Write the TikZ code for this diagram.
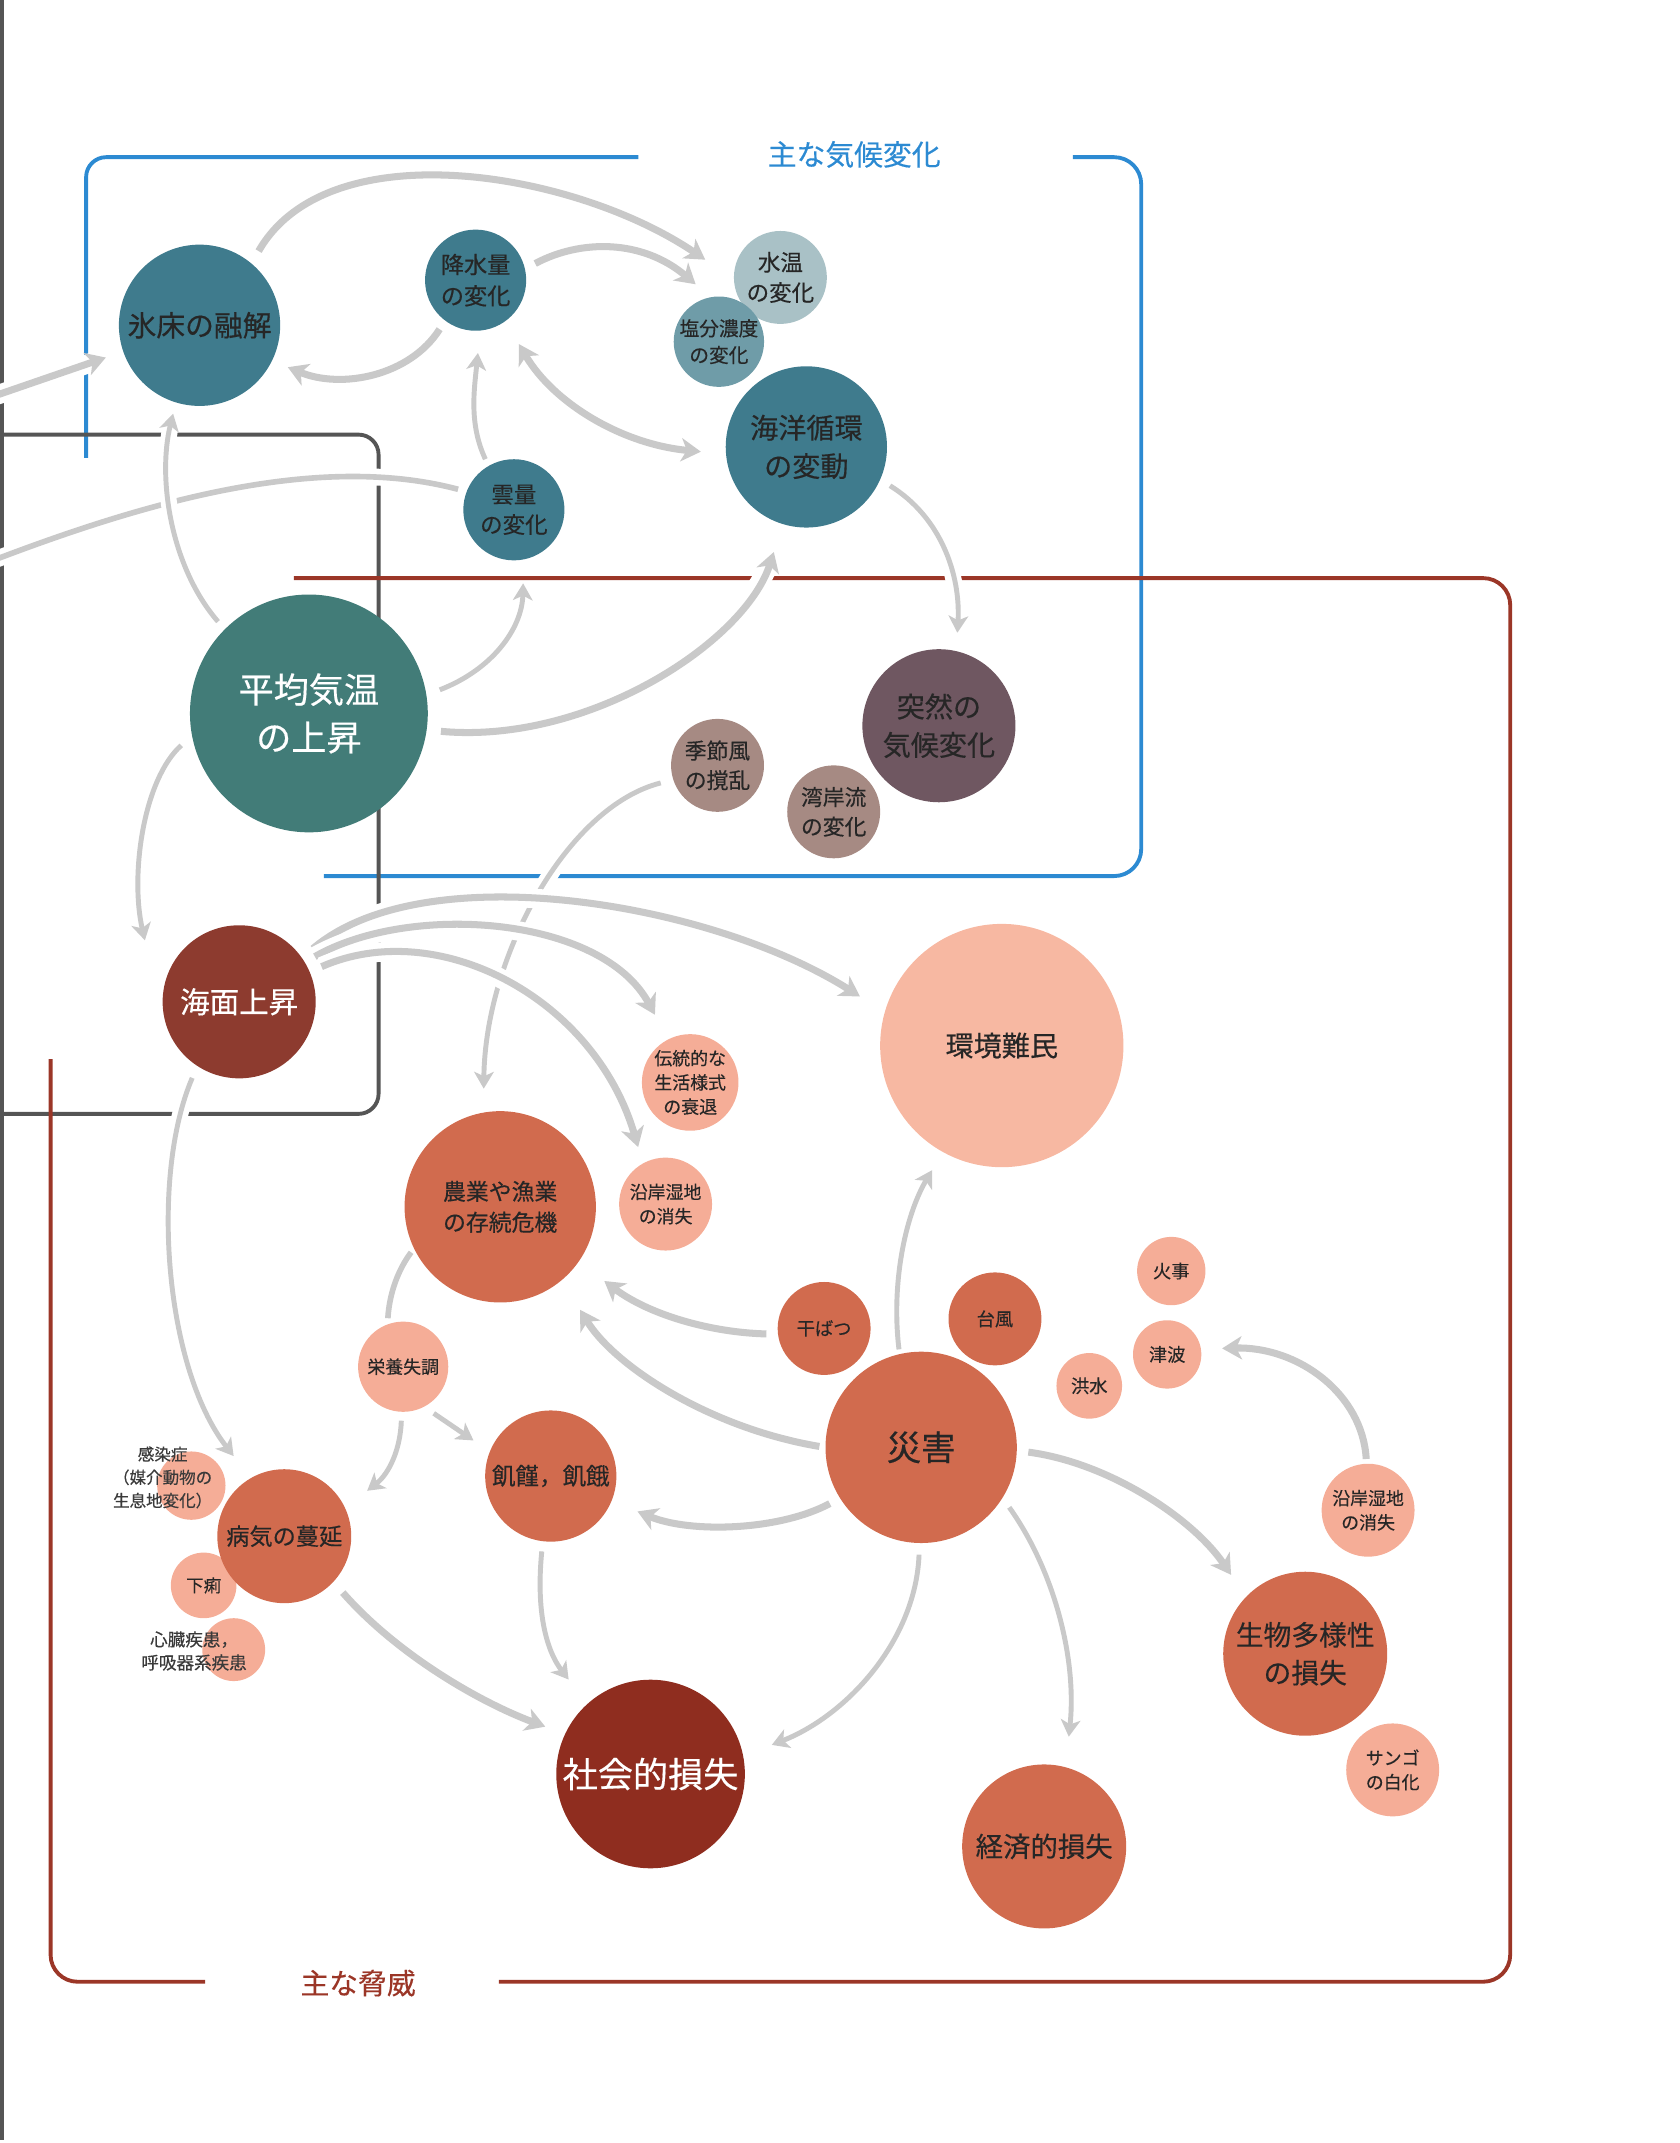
\documentclass[tikz,border=0pt]{standalone}
\usepackage{fontspec}
\setmainfont{Noto Sans CJK JP}[FakeBold=0.35]
\usetikzlibrary{arrows.meta}
\pgfdeclarelayer{bg}
\pgfdeclarelayer{arr}
\pgfsetlayers{bg,arr,main}
\definecolor{cteal}{HTML}{3F7B8D}
\definecolor{cwt}{HTML}{A9C1C6}
\definecolor{csal}{HTML}{6F9CA8}
\definecolor{ctemp}{HTML}{427C78}
\definecolor{cabr}{HTML}{6F5761}
\definecolor{cmon}{HTML}{A68A83}
\definecolor{csea}{HTML}{8D3B2F}
\definecolor{csoc}{HTML}{8F2D1F}
\definecolor{corg}{HTML}{D16B4E}
\definecolor{clt}{HTML}{F5AD97}
\definecolor{cref}{HTML}{F7B8A2}
\definecolor{argray}{HTML}{C9C9C9}
\definecolor{cblue}{HTML}{2C8AD2}
\definecolor{cred}{HTML}{9B3627}
\definecolor{cgray}{HTML}{555555}
\definecolor{txtd}{HTML}{262626}
\definecolor{txtg}{HTML}{3A3A3A}
\begin{document}
\begin{tikzpicture}[x=0.1367mm,y=-0.1367mm,
  bub/.style={circle, inner sep=0pt, minimum size=#1*0.2734mm, align=center, text=txtd},
  f/.style 2 args={font=\fontsize{#1pt}{#2pt}\selectfont},
  ss/.style={shorten <=#1*0.1367mm},
  se/.style={shorten >=#1*0.1367mm},
  ar/.style={draw=argray, line width=2pt, -{Stealth[length=5.6pt,width=6.6pt,inset=1.6pt]}, preaction={draw=white,line width=5.5pt,-}},
  arthin/.style={draw=argray, line width=1.4pt, -{Stealth[length=4.8pt,width=5.6pt,inset=1.3pt]}, preaction={draw=white,line width=4.6pt,-}},
  arboth/.style={draw=argray, line width=2pt, {Stealth[length=5.6pt,width=6.6pt,inset=1.6pt]}-{Stealth[length=5.6pt,width=6.6pt,inset=1.6pt]}, preaction={draw=white,line width=5.5pt,-}},
  ln/.style={draw=argray, line width=1.6pt, preaction={draw=white,line width=4.8pt}},
  boxline/.style={line width=1.1pt}
]
\useasboundingbox (0,0) rectangle (1229,1568);

% ---------- bubbles ----------
\node[bub=59, fill=cteal, f={8.2}{11}] (ice) at (146,238) {氷床の融解};
\node[bub=37, fill=cteal, f={6.6}{8.9}] (pre) at (348,205) {降水量\\の変化};
\node[bub=34, fill=cwt, f={6.4}{8.6}] (wt) at (571,203) {水温\\の変化};
\node[bub=33, fill=csal, f={5.6}{7.6}] (sal) at (526,250) {塩分濃度\\の変化};
\node[bub=59, fill=cteal, f={8}{10.9}] (oc) at (590,327) {海洋循環\\の変動};
\node[bub=37, fill=cteal, f={6.4}{8.6}] (cl) at (376,373) {雲量\\の変化};
\node[bub=87, fill=ctemp, f={10}{13.6}, text=white] (temp) at (226,522) {平均気温\\の上昇};
\node[bub=56, fill=cabr, f={8}{10.9}] (abr) at (687,531) {突然の\\気候変化};
\node[bub=34, fill=cmon, f={6.2}{8.4}] (mon) at (525,560) {季節風\\の撹乱};
\node[bub=34, fill=cmon, f={6.2}{8.4}] (gulf) at (610,594) {湾岸流\\の変化};
\node[bub=56, fill=csea, f={8.4}{11}, text=white] (sea) at (175,733) {海面上昇};
\node[bub=89, fill=cref, f={8}{11}] (ref) at (733,765) {環境難民};
\node[bub=34, fill=clt, f={5.1}{6.9}] (trad) at (505,792) {伝統的な\\生活様式\\の衰退};
\node[bub=70, fill=corg, f={6.5}{8.8}] (agr) at (366,883) {農業や漁業\\の存続危機};
\node[bub=34, fill=clt, f={5.1}{6.9}] (cw1) at (487,881) {沿岸湿地\\の消失};
\node[bub=33, fill=clt, f={5.1}{6.9}] (nut) at (295,1000) {栄養失調};
\node[bub=34, fill=corg, f={5.2}{7}] (dro) at (603,972) {干ばつ};
\node[bub=34, fill=corg, f={5.2}{7}] (typ) at (728,965) {台風};
\node[bub=25, fill=clt, f={5.2}{7}] (fire) at (857,930) {火事};
\node[bub=25, fill=clt, f={5.2}{7}] (tsu) at (854,991) {津波};
\node[bub=24, fill=clt, f={5.2}{7}] (flood) at (797,1014) {洪水};
\node[bub=70, fill=corg, f={9.8}{13}] (dis) at (674,1059) {災害};
\node[bub=48, fill=corg, f={6.7}{9}] (fam) at (403,1080) {飢饉，飢餓};
\node[bub=25, fill=clt] (inf) at (140,1087) {};
\node[f={4.7}{6.6}, text=txtg, align=center, inner sep=0pt] (infT) at (119,1081) {感染症\\（媒介動物の\\生息地変化）};
\node[bub=24, fill=clt, f={5}{6.8}] (dia) at (149,1160) {下痢};
\node[bub=49, fill=corg, f={6.6}{9}] (ill) at (208,1124) {病気の蔓延};
\node[bub=23, fill=clt] (hrt) at (171,1207) {};
\node[f={5}{6.6}, text=txtg, align=center, inner sep=0pt] (hrtT) at (142,1208) {心臓疾患，\\呼吸器系疾患};
\node[bub=34, fill=clt, f={5.1}{6.9}] (cw2) at (1001,1105) {沿岸湿地\\の消失};
\node[bub=60, fill=corg, f={7.9}{10.8}] (bio) at (955,1210) {生物多様性\\の損失};
\node[bub=34, fill=clt, f={5.1}{6.9}] (cor) at (1019,1295) {サンゴ\\の白化};
\node[bub=69, fill=csoc, f={10}{13}, text=white] (soc) at (476,1298) {社会的損失};
\node[bub=60, fill=corg, f={7.8}{10.5}] (eco) at (764,1351) {経済的損失};

% ---------- titles ----------
\node[f={8.2}{10}, text=cblue] (t1) at (625,113) {主な気候変化};
\node[f={8.2}{10}, text=cred] (t2) at (262,1451) {主な脅威};

% ---------- free ends ----------
\coordinate (La) at (-5,290);
\coordinate (Lg) at (-5,410);
\coordinate (bT) at (516,190);
\coordinate (cT) at (509,208);
\coordinate (lT) at (106,688);

% ---------- boxes ----------
\begin{pgfonlayer}{bg}
\fill[cgray] (0,0) rectangle (2.8,1566);
\draw[boxline, cblue, rounded corners=2mm] (467,115) -- (63,115) -- (63,335);
\draw[boxline, cblue, rounded corners=2.7mm] (785,115) -- (835,115) -- (835,641) -- (237,641);
\draw[boxline, cgray, rounded corners=2mm] (0,318) -- (277,318) -- (277,815) -- (0,815);
\draw[boxline, cred, rounded corners=2.7mm] (215,423) -- (1105,423) -- (1105,1450) -- (365,1450);
\draw[boxline, cred, rounded corners=2.7mm] (150,1450) -- (37,1450) -- (37,775);
\end{pgfonlayer}

% ---------- connectors ----------
\begin{pgfonlayer}{arr}
\draw[ar,se=13] (La) -- (ice.199);
\draw[ar,ss=10] (ice.50) .. controls (240,95) and (420,125) .. (bT);
\draw[ar,ss=8] (pre.13) .. controls (425,175) and (470,175) .. (cT);
\draw[ar,ss=7,se=12] (pre.233) .. controls (300,275) and (250,285) .. (ice.334);
\draw[arthin,ss=5,se=16] (cl.120) .. controls (343,310) and (347,285) .. (pre.275);
\draw[arboth,ss=19,se=18] (pre.306) .. controls (405,295) and (455,325) .. (oc.185);
\draw[ln,ss=6] (cl.159) .. controls (230,330) and (100,370) .. (Lg);
\draw[arthin,ss=7,se=8] (temp.135) .. controls (125,415) and (115,350) .. (ice.253);
\draw[arthin,ss=10,se=17] (temp.9) .. controls (360,490) and (382,460) .. (cl.281);
\draw[ar,ss=10,se=21] (temp.352) .. controls (430,545) and (545,470) .. (oc.253);
\draw[arthin,ss=8,se=13] (oc.336) .. controls (688,378) and (703,420) .. (abr.77);
\draw[arthin,ss=10] (temp.191) .. controls (105,570) and (95,640) .. (lT);
\draw[arthin,ss=9,se=17] (mon.198) .. controls (415,590) and (355,700) .. (agr.100);
\draw[ar,ss=10,se=21] (sea.35) .. controls (310,625) and (520,660) .. (ref.164);
\draw[ar,ss=8,se=20] (sea.31) .. controls (300,660) and (440,670) .. (trad.117);
\draw[ar,ss=9,se=12] (sea.23) .. controls (320,670) and (435,730) .. (cw1.119);
\draw[arthin,ss=9,se=20] (sea.237) .. controls (110,860) and (120,1000) .. (ill.120);
\draw[ln,ss=4,se=3] (nut.110) .. controls (285,945) and (292,928) .. (agr.206);
\draw[arthin,ss=6,se=20] (nut.268) .. controls (293,1060) and (285,1078) .. (ill.25);
\draw[arthin,ss=8,se=14] (nut.298) -- (fam.158);
\draw[ar,ss=8,se=23] (dro.187) .. controls (520,975) and (475,962) .. (agr.325);
\draw[ar,ss=4,se=25] (dis.180) .. controls (520,1045) and (450,1000) .. (agr.310);
\draw[arthin,ss=3,se=15] (dis.103) .. controls (652,940) and (662,890) .. (ref.241);
\draw[ar,ss=8,se=20] (dis.212) .. controls (570,1120) and (505,1122) .. (fam.338);
\draw[arthin,ss=7,se=22] (fam.263) .. controls (392,1180) and (400,1208) .. (soc.132);
\draw[ar,ss=10,se=15] (ill.317) .. controls (290,1210) and (350,1245) .. (soc.155);
\draw[arthin,ss=8,se=22] (dis.269) .. controls (670,1200) and (620,1255) .. (soc.11);
\draw[arthin,ss=8,se=22] (dis.328) .. controls (772,1150) and (788,1215) .. (eco.75);
\draw[ar,ss=8,se=19] (dis.358) .. controls (810,1070) and (872,1110) .. (bio.136);
\draw[ar,ss=3,se=15] (cw2.92) .. controls (997,1020) and (950,985) .. (tsu.9);
\end{pgfonlayer}
\end{tikzpicture}
\end{document}
